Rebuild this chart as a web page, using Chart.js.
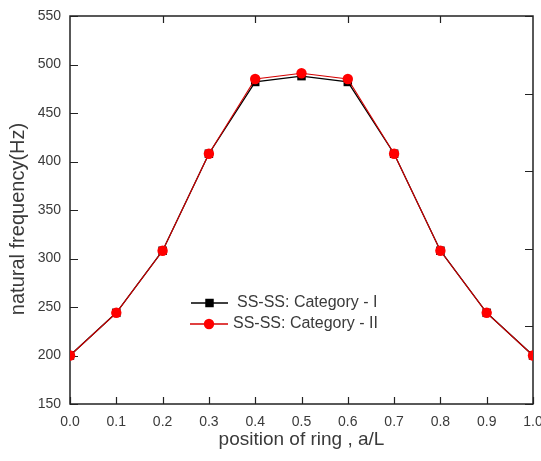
<!DOCTYPE html>
<html>
<head>
<meta charset="utf-8">
<script src="https://cdn.jsdelivr.net/npm/chart.js@4/dist/chart.umd.min.js"></script>
<style>
  html, body { margin: 0; padding: 0; background: #fff; }
  #wrap { width: 541px; height: 461px; position: relative; }
</style>
</head>
<body>
<div id="wrap"><canvas id="c" width="541" height="461"></canvas></div>
<script>
// ---- data ----
const positions = [0.0, 0.1, 0.2, 0.3, 0.4, 0.5, 0.6, 0.7, 0.8, 0.9, 1.0];
const categoryI  = [200, 244, 308, 408, 482, 488, 482, 408, 308, 244, 200];
const categoryII = [200, 244, 308, 408, 485, 491, 485, 408, 308, 244, 200];
const seriesNames = ['SS-SS: Category - I', 'SS-SS: Category - II'];
const xTitle = 'position of ring , a/L';
const yTitle = 'natural frequency(Hz)';
const rightTickValues = [150, 230, 310, 390, 470, 550];
const topTickValues = [0.2, 0.4, 0.6, 0.8];

const FONT = '"Liberation Sans", Arial, sans-serif';
const TXT = '#3a3a3a';

const framePlugin = {
  id: 'frame',
  beforeDatasetsDraw(chart) {
    const {ctx, chartArea: a, scales} = chart;
    const xs = scales.x, ys = scales.y;
    ctx.save();
    ctx.strokeStyle = '#222';
    ctx.lineWidth = 1.5;
    ctx.strokeRect(a.left, a.top, a.right - a.left, a.bottom - a.top);
    ctx.lineWidth = 1.2;
    ctx.beginPath();
    xs.ticks.forEach(t => {
      const px = Math.round(xs.getPixelForValue(t.value)) + 0.5;
      ctx.moveTo(px, a.bottom); ctx.lineTo(px, a.bottom - 7);
    });
    topTickValues.forEach(v => {
      const px = Math.round(xs.getPixelForValue(v)) + 0.5;
      ctx.moveTo(px, a.top); ctx.lineTo(px, a.top + 7);
    });
    ys.ticks.forEach(t => {
      const py = Math.round(ys.getPixelForValue(t.value)) + 0.5;
      ctx.moveTo(a.left, py); ctx.lineTo(a.left + 8, py);
    });
    rightTickValues.forEach(v => {
      const py = Math.round(ys.getPixelForValue(v)) + 0.5;
      ctx.moveTo(a.right, py); ctx.lineTo(a.right - 8, py);
    });
    ctx.stroke();
    ctx.restore();
  },
  afterDraw(chart) {
    const {ctx, chartArea: a} = chart;
    ctx.save();
    ctx.fillStyle = TXT;
    ctx.font = '19px ' + FONT;
    ctx.textAlign = 'center';
    ctx.textBaseline = 'middle';
    ctx.fillText(xTitle, (a.left + a.right) / 2, 440);
    ctx.translate(18, 219);
    ctx.rotate(-Math.PI / 2);
    ctx.font = '20px ' + FONT;
    ctx.fillText(yTitle, 0, 0);
    ctx.restore();

    const ds = chart.data.datasets;
    const rows = [
      {y: 303, x0: 191, x1: 228, tx: 237},
      {y: 324, x0: 190, x1: 228, tx: 233}
    ];
    ctx.save();
    ctx.font = '16px ' + FONT;
    ctx.textAlign = 'left';
    ctx.textBaseline = 'middle';
    rows.forEach((r, i) => {
      const d = ds[i];
      ctx.strokeStyle = d.borderColor;
      ctx.lineWidth = 1.5;
      ctx.beginPath();
      ctx.moveTo(r.x0, r.y); ctx.lineTo(r.x1, r.y);
      ctx.stroke();
      ctx.fillStyle = d.pointBackgroundColor;
      ctx.strokeStyle = d.pointBackgroundColor;
      Chart.helpers.drawPoint(ctx, {
        pointStyle: d.pointStyle,
        radius: d.pointRadius,
        borderWidth: 0
      }, (r.x0 + r.x1) / 2, r.y);
      ctx.fillStyle = TXT;
      ctx.fillText(seriesNames[i], r.tx, r.y);
    });
    ctx.restore();
  }
};

const toXY = vals => positions.map((p, i) => ({x: p, y: vals[i]}));

new Chart(document.getElementById('c'), {
  type: 'line',
  data: {
    datasets: [
      {
        label: seriesNames[0],
        data: toXY(categoryI),
        order: 2,
        borderColor: '#000000',
        backgroundColor: '#000000',
        pointBackgroundColor: '#000000',
        pointBorderColor: '#000000',
        borderWidth: 1.3,
        pointStyle: 'rect',
        pointRadius: 6,
        pointBorderWidth: 0,
        pointHoverRadius: 6,
        tension: 0
      },
      {
        label: seriesNames[1],
        data: toXY(categoryII),
        order: 1,
        borderColor: '#d40000',
        backgroundColor: '#ff0000',
        pointBackgroundColor: '#ff0000',
        pointBorderColor: '#ff0000',
        borderWidth: 1.1,
        pointStyle: 'circle',
        pointRadius: 5.2,
        pointBorderWidth: 0,
        pointHoverRadius: 5.2,
        tension: 0
      }
    ]
  },
  options: {
    responsive: false,
    animation: false,
    events: [],
    layout: { padding: { left: 0, right: 8, top: 16, bottom: 0 } },
    plugins: { legend: { display: false }, tooltip: { enabled: false } },
    scales: {
      x: {
        type: 'linear',
        min: 0, max: 1,
        offset: false,
        grid: { display: false, drawTicks: false, tickLength: 0 },
        border: { display: false },
        ticks: {
          stepSize: 0.1,
          padding: 10,
          color: TXT,
          font: { family: FONT, size: 14 },
          maxRotation: 0,
          autoSkip: false,
          callback: v => Number(v).toFixed(1)
        },
        afterFit(s) { s.height = 57; s.paddingLeft = 0; s.paddingRight = 0; }
      },
      y: {
        type: 'linear',
        min: 150, max: 550,
        grid: { display: false, drawTicks: false, tickLength: 0 },
        border: { display: false },
        ticks: {
          stepSize: 50,
          padding: 9,
          color: TXT,
          font: { family: FONT, size: 14 }
        },
        afterFit(s) { s.width = 70; s.paddingTop = 0; s.paddingBottom = 0; }
      }
    }
  },
  plugins: [framePlugin]
});
</script>
</body>
</html>
